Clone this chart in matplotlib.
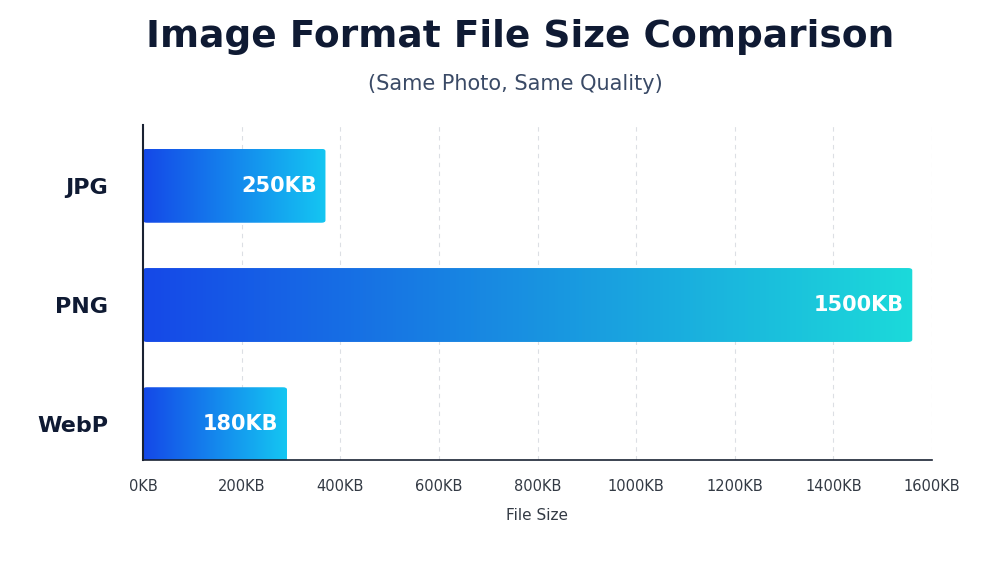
import matplotlib
matplotlib.use("Agg")
import matplotlib.pyplot as plt
import numpy as np
from matplotlib.patches import FancyBboxPatch
from matplotlib.colors import LinearSegmentedColormap

categories = ["JPG", "PNG", "WebP"]
value_labels = ["250KB", "1500KB", "180KB"]
bar_lengths = [370, 1560, 292]   # drawn bar lengths in KB
end_colors = ["#14c6f2", "#1cdada", "#14c6f2"]
xticks = [0, 200, 400, 600, 800, 1000, 1200, 1400, 1600]
xticklabels = [f"{t}KB" for t in xticks]

fig = plt.figure(figsize=(10, 5.63), dpi=100)
ax = fig.add_axes([0.143, 0.183, 0.789, 0.595])
ax.set_xlim(0, 1600)
ax.set_ylim(2.30, -0.51)
h = 0.62
for i, (cat, L, lab, ec) in enumerate(zip(categories, bar_lengths, value_labels, end_colors)):
    patch = FancyBboxPatch((0, i - h/2), L, h, boxstyle="round,pad=0,rounding_size=8",
                           mutation_aspect=h/ (0.62*1600/ (0.789*1000) * 0.595*563/ (2.81) / 1) if False else 0.0025,
                           facecolor="none", edgecolor="none")
    ax.add_patch(patch)
    cmap = LinearSegmentedColormap.from_list("g", ["#1548e8", ec])
    grad = np.linspace(0, 1, 256).reshape(1, -1)
    im = ax.imshow(grad, cmap=cmap, extent=(0, L, i + h/2, i - h/2), aspect="auto", zorder=2)
    im.set_clip_path(patch)
    ax.text(L - 18, i, lab, ha="right", va="center", color="white", fontsize=15,
            fontweight="bold", zorder=3)
ax.set_xlim(0, 1600)
ax.set_ylim(2.30, -0.51)
ax.set_yticks(range(len(categories)))
ax.set_yticklabels(categories, fontsize=16, fontweight="bold", color="#0f1a33")
ax.tick_params(axis="y", length=0, pad=25)
ax.set_xticks(xticks)
ax.set_xticklabels(xticklabels, fontsize=10.5, color="#333a44")
ax.tick_params(axis="x", length=0, pad=14)
ax.grid(axis="x", linestyle=(0, (4, 4)), color="#dcdfe4", linewidth=0.8, zorder=0)
ax.set_axisbelow(True)
for s in ["top", "right"]:
    ax.spines[s].set_visible(False)
ax.spines["left"].set_color("#1a2233")
ax.spines["bottom"].set_color("#1a2233")
ax.spines["left"].set_linewidth(1.5)
ax.spines["bottom"].set_linewidth(1.2)
ax.set_xlabel("File Size", fontsize=11, color="#333a44", labelpad=10)
fig.text(0.52, 0.935, "Image Format File Size Comparison", ha="center", va="center",
         fontsize=27, fontweight="bold", color="#0f1a33")
fig.text(0.515, 0.85, "(Same Photo, Same Quality)", ha="center", va="center",
         fontsize=15, color="#3a4a66")
fig.savefig("out.png", dpi=100, facecolor="white")
